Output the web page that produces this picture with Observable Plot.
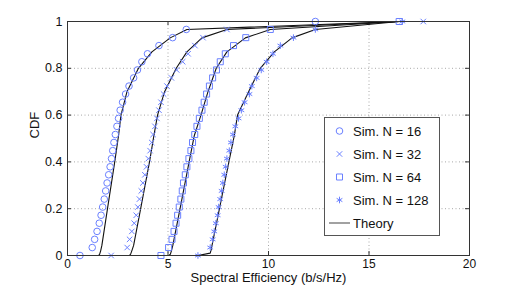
<!DOCTYPE html>
<html>
<head>
<meta charset="utf-8">
<script src="https://cdn.jsdelivr.net/npm/d3@7"></script>
<script src="https://cdn.jsdelivr.net/npm/@observablehq/plot@0.6"></script>
<style>
  html, body { margin: 0; padding: 0; background: #fff; }
  #chart { width: 519px; height: 287px; }
  svg { font-family: "Liberation Sans", Arial, Helvetica, sans-serif; }
</style>
</head>
<body>
<div id="chart"></div>
<script>
// ---- data ----
const xTicks = [0, 5, 10, 15, 20];
const xTickLabels = ["0", "5", "10", "15", "20"];
const yTicks = [0, 0.2, 0.4, 0.6, 0.8, 1];
const yTickLabels = ["0", "0.2", "0.4", "0.6", "0.8", "1"];

const seriesNames = ["Sim. N = 16", "Sim. N = 32", "Sim. N = 64", "Sim. N = 128"];
const seriesSymbols = ["circle", "times", "square", "asterisk"];

// empirical CDF levels shared by all simulated series
const simLevels = [0, 0.034, 0.069, 0.103, 0.138, 0.172, 0.207, 0.241, 0.276, 0.310,
  0.345, 0.379, 0.414, 0.448, 0.483, 0.517, 0.552, 0.586, 0.621, 0.655,
  0.690, 0.724, 0.759, 0.793, 0.828, 0.862, 0.897, 0.931, 0.966, 1];

const sim16 = [0.62, 1.23, 1.35, 1.47, 1.58, 1.67, 1.75, 1.83, 1.90, 1.97,
  2.05, 2.12, 2.19, 2.25, 2.31, 2.38, 2.46, 2.54, 2.62, 2.74,
  2.89, 3.06, 3.29, 3.48, 3.70, 3.98, 4.55, 5.23, 5.91, 12.33];
const sim32 = [2.17, 2.97, 3.09, 3.20, 3.32, 3.42, 3.50, 3.58, 3.67, 3.75,
  3.85, 3.93, 4.02, 4.11, 4.19, 4.26, 4.35, 4.45, 4.55, 4.65,
  4.78, 4.95, 5.17, 5.43, 5.73, 6.00, 6.34, 6.74, 7.93, 17.70];
const sim64 = [4.65, 5.03, 5.20, 5.30, 5.40, 5.48, 5.56, 5.64, 5.71, 5.77,
  5.86, 5.94, 6.04, 6.14, 6.22, 6.33, 6.44, 6.56, 6.69, 6.80,
  6.92, 7.06, 7.22, 7.41, 7.60, 7.85, 8.26, 8.87, 10.09, 16.50];
const sim128 = [6.49, 7.10, 7.22, 7.30, 7.38, 7.47, 7.52, 7.60, 7.67, 7.73,
  7.80, 7.87, 7.93, 8.05, 8.13, 8.23, 8.35, 8.51, 8.65, 8.81,
  9.05, 9.17, 9.41, 9.64, 9.91, 10.22, 10.59, 11.24, 12.33, 16.66];

// theory curves
const theory16X = [0.62, 1.55, 1.60, 1.65, 1.71, 1.99, 2.35, 2.54, 2.66, 2.96, 3.53, 4.20, 5.11, 5.94, 16.5];
const theory16P = [0, 0, 0.006, 0.02, 0.043, 0.2, 0.4, 0.513, 0.6, 0.7, 0.8, 0.87, 0.93, 0.966, 1];
const theory32X = [2.17, 3.08, 3.14, 3.20, 3.29, 3.64, 4.08, 4.30, 4.48, 4.83, 5.41, 5.94, 6.69, 7.93, 16.5];
const theory32P = [0, 0, 0.006, 0.02, 0.043, 0.2, 0.4, 0.513, 0.6, 0.7, 0.8, 0.87, 0.93, 0.966, 1];
const theory64X = [4.65, 5.05, 5.12, 5.17, 5.24, 5.60, 6.05, 6.31, 6.64, 6.99, 7.40, 7.93, 8.85, 10.09, 16.5];
const theory64P = [0, 0, 0.006, 0.02, 0.043, 0.2, 0.4, 0.513, 0.6, 0.7, 0.8, 0.87, 0.93, 0.966, 1];
const theory128X = [6.49, 7.10, 7.15, 7.19, 7.56, 8.03, 8.30, 8.46, 9.01, 9.59, 10.29, 11.17, 12.33, 16.5];
const theory128P = [0, 0.01, 0.025, 0.043, 0.2, 0.4, 0.513, 0.6, 0.7, 0.8, 0.87, 0.93, 0.966, 1];

// ---- tables built from the arrays ----
const simSets = [sim16, sim32, sim64, sim128];
const simRows = simSets.flatMap((xs, s) => xs.map((x, i) => ({series: seriesNames[s], sym: seriesSymbols[s], x, p: simLevels[i]})));
const theorySets = [[theory16X, theory16P], [theory32X, theory32P], [theory64X, theory64P], [theory128X, theory128P]];
const theoryRows = theorySets.flatMap(([xs, ps], s) => xs.map((x, i) => ({series: seriesNames[s], x, p: ps[i]})));

const W = 519, H = 287;
const mL = 67, mR = 50, mT = 21, mB = 32;
const innerW = W - mL - mR, innerH = H - mT - mB;
const blue = "#6a80ff";
const symSize = {circle: 3.3, times: 2.6, square: 3.4, asterisk: 3.1};

const chart = Plot.plot({
  width: W, height: H,
  marginLeft: mL, marginRight: mR, marginTop: mT, marginBottom: mB,
  style: {fontFamily: "Liberation Sans, Arial, sans-serif", background: "white"},
  x: {domain: [0, 20]},
  y: {domain: [0, 1]},
  symbol: {domain: seriesSymbols, range: seriesSymbols},
  marks: [
    Plot.gridX(xTicks.slice(1, -1), {stroke: "#a8a8a8", strokeOpacity: 1, strokeDasharray: "1,2.5"}),
    Plot.gridY(yTicks.slice(1, -1), {stroke: "#a8a8a8", strokeOpacity: 1, strokeDasharray: "1,2.5"}),
    // inward ticks on all four sides
    Plot.tickX(xTicks, {x: d => d, stroke: "#333", insetTop: innerH - 4}),
    Plot.tickX(xTicks, {x: d => d, stroke: "#333", insetBottom: innerH - 4}),
    Plot.tickY(yTicks, {y: d => d, stroke: "#333", insetRight: innerW - 4}),
    Plot.tickY(yTicks, {y: d => d, stroke: "#333", insetLeft: innerW - 4}),
    Plot.line(theoryRows, {x: "x", y: "p", z: "series", stroke: "#111", strokeWidth: 1.1}),
    ...seriesSymbols.map(sym => Plot.dot(simRows.filter(d => d.sym === sym), {
      x: "x", y: "p", symbol: "sym", r: symSize[sym], stroke: blue, strokeWidth: 1, fill: "none"
    })),
    Plot.frame({stroke: "#333", strokeWidth: 1}),
    Plot.axisX({ticks: xTicks, tickFormat: (d, i) => xTickLabels[i], tickSize: 0, tickPadding: 4, label: null, fontSize: 12, fill: "#111"}),
    Plot.axisY({ticks: yTicks, tickFormat: (d, i) => yTickLabels[i], tickSize: 0, tickPadding: 5, label: null, fontSize: 12.5, fill: "#111"}),
    Plot.text(["Spectral Efficiency (b/s/Hz)"], {frameAnchor: "bottom", dy: 26, fontSize: 13, fill: "#111"}),
    Plot.text(["CDF"], {frameAnchor: "left", dx: -33, rotate: -90, fontSize: 13, fill: "#111"})
  ]
});
document.getElementById("chart").appendChild(chart);

// ---- legend (drawn inside the plot frame, lower right) ----
const svg = d3.select(chart);
const legW = 115, legH = 118;
const legX = W - mR - 30 - legW, legY = H - mB - 20 - legH;
const g = svg.append("g").attr("transform", `translate(${legX},${legY})`)
  .attr("text-anchor", "start");
g.append("rect").attr("x", 0.5).attr("y", 0.5).attr("width", legW).attr("height", legH)
  .attr("fill", "white").attr("stroke", "#555").attr("stroke-width", 1);
const rowH = 23, row0 = 14;
const symMap = {circle: d3.symbolCircle, times: d3.symbolTimes, square: d3.symbolSquare, asterisk: d3.symbolAsterisk};
seriesNames.forEach((name, i) => {
  const sym = seriesSymbols[i];
  const r = symSize[sym];
  g.append("path")
    .attr("transform", `translate(15.5,${row0 + i * rowH})`)
    .attr("d", d3.symbol(symMap[sym], Math.PI * r * r)())
    .attr("fill", "none").attr("stroke", blue).attr("stroke-width", 1);
  g.append("text").attr("x", 29).attr("y", row0 + i * rowH).attr("dy", "0.35em")
    .attr("text-anchor", "start")
    .attr("font-size", 13).attr("fill", "#111").text(name);
});
g.append("line").attr("x1", 5).attr("x2", 26)
  .attr("y1", row0 + 4 * rowH).attr("y2", row0 + 4 * rowH)
  .attr("stroke", "#555").attr("stroke-width", 1.1);
g.append("text").attr("x", 29).attr("y", row0 + 4 * rowH).attr("dy", "0.35em")
  .attr("text-anchor", "start")
  .attr("font-size", 13).attr("fill", "#111").text("Theory");
</script>
</body>
</html>
